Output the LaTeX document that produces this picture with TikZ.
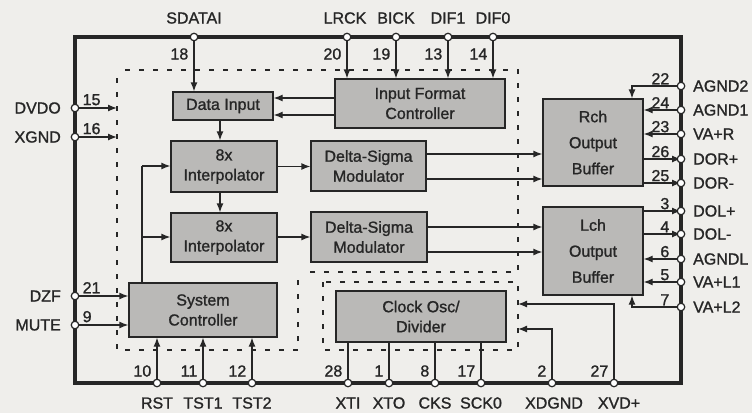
\documentclass[tikz,border=0pt]{standalone}
\usepackage{fontspec}
\setmainfont{Liberation Sans}[FakeBold=1.2]
\usetikzlibrary{arrows.meta}
\definecolor{bg}{HTML}{EFEEEB}
\definecolor{boxgray}{HTML}{BAB9B7}
\definecolor{ink}{HTML}{262626}
\begin{document}
\begin{tikzpicture}[x=1pt,y=-1pt,
  every node/.style={text=ink, font=\fontsize{16}{20}\selectfont},
  blk/.style={draw=ink, line width=1.3pt, fill=boxgray, align=center, inner sep=0pt},
  pinc/.style={circle, draw=ink, fill=white, line width=1.2pt, minimum size=7.5pt, inner sep=0pt},
  wire/.style={draw=ink, line width=1.3pt},
  arr/.style={wire, -{Latex[length=9pt,width=7pt]}},
  dsh/.style={draw=ink, line width=1.1pt, dash pattern=on 5pt off 9pt},
  num/.style={inner sep=1.5pt},
  lbl/.style={inner sep=1pt}]
\useasboundingbox[fill=bg] (0,0) rectangle (752,413);

% dashed domains
\draw[dsh] (125,70) -- (518,70) -- (518,272) -- (310,272);
\draw[dsh] (117,78) -- (117,350) -- (298,350) -- (298,278);
\draw[dsh] (323,282) rectangle (518,350);

% outline
\draw[draw=ink, line width=4pt, line join=miter] (75,37) rectangle (681,383);

% blocks
\node[blk, minimum width=100pt, minimum height=28pt] (di) at (223,106) {Data Input};
\node[blk, minimum width=170pt, minimum height=49pt] (ifc) at (420,103.5) {Input Format\\Controller};
\node[blk, minimum width=106pt, minimum height=51pt] (ip1) at (224,166.5) {8x\\Interpolator};
\node[blk, minimum width=115pt, minimum height=50pt] (ds1) at (368.5,166) {Delta-Sigma\\Modulator};
\node[blk, minimum width=106pt, minimum height=49pt] (ip2) at (224,237.5) {8x\\Interpolator};
\node[blk, minimum width=116pt, minimum height=50pt] (ds2) at (369,237) {Delta-Sigma\\Modulator};
\node[blk, minimum width=148pt, minimum height=54pt] (sc) at (203,310) {System\\Controller};
\node[blk, minimum width=170pt, minimum height=51pt] (ck) at (421,316.5) {Clock Osc/\\Divider};
\node[blk, minimum width=100pt, minimum height=87pt, font=\fontsize{16}{26}\selectfont] (rch) at (593,142.5) {Rch\\Output\\Buffer};
\node[blk, minimum width=100pt, minimum height=88pt, font=\fontsize{16}{26}\selectfont] (lch) at (593,251) {Lch\\Output\\Buffer};

% pins - top
\coordinate (p18) at (194,37);
\coordinate (p20) at (347,37);
\coordinate (p19) at (396,37);
\coordinate (p13) at (448,37);
\coordinate (p14) at (493,37);
% left
\coordinate (p15) at (75,108);
\coordinate (p16) at (75,137);
\coordinate (p21) at (75,296);
\coordinate (p9) at (75,325);
% bottom
\coordinate (p10) at (157,383);
\coordinate (p11) at (203,383);
\coordinate (p12) at (252,383);
\coordinate (p28) at (348,383);
\coordinate (p1) at (389,383);
\coordinate (p8) at (435,383);
\coordinate (p17) at (481,383);
\coordinate (p2) at (552,383);
\coordinate (p27) at (614,383);
% right
\coordinate (p22) at (681,86);
\coordinate (p24) at (681,110);
\coordinate (p23) at (681,134);
\coordinate (p26) at (681,159);
\coordinate (p25) at (681,183);
\coordinate (p3) at (681,211);
\coordinate (p4) at (681,234);
\coordinate (p6) at (681,259);
\coordinate (p5) at (681,282);
\coordinate (p7) at (681,307);

% free ends on dashed boundary
\coordinate (e15) at (117,108);
\coordinate (e16) at (117,137);
\coordinate (e2) at (518,329);
\coordinate (e27) at (518,304);

% connectors top
\draw[arr] (p18) -- (p18 |- di.north);
\foreach \p in {p20,p19,p13,p14} \draw[arr] (\p) -- (\p |- ifc.north);
\draw[arr] (ifc.west |- 0,98) -- (di.east |- 0,98);
\draw[arr] (ifc.west |- 0,115) -- (di.east |- 0,115);
\draw[arr] (di.south -| 220,0) -- (ip1.north -| 220,0);
\draw[arr] (ip1.south -| 220,0) -- (ip2.north -| 220,0);
\draw[arr] (ip1.east) -- (ds1.west |- ip1.east);
\draw[arr] (ip2.east |- 0,237) -- (ds2.west |- 0,237);
\draw[arr] (ds1.east |- 0,154) -- (rch.west |- 0,154);
\draw[arr] (ds1.east |- 0,179) -- (rch.west |- 0,179);
\draw[arr] (ds2.east |- 0,227) -- (lch.west |- 0,227);
\draw[arr] (ds2.east |- 0,252) -- (lch.west |- 0,252);
% system controller feedback
\draw[wire] (sc.north -| 142,0) -- (142,166);
\draw[arr] (142,166) -- (ip1.west |- 0,166);
\draw[arr] (142,237) -- (ip2.west |- 0,237);
% left
\draw[arr] (p15) -- (e15);
\draw[arr] (p16) -- (e16);
\draw[arr] (p21) -- (sc.west |- p21);
\draw[arr] (p9) -- (sc.west |- p9);
% bottom
\foreach \p in {p10,p11,p12} \draw[arr] (\p) -- (\p |- sc.south);
\foreach \p in {p28,p1,p8,p17} \draw[wire] (\p) -- (\p |- ck.south);
\draw[arr] (p2) -- (p2 |- e2) -- (e2);
\draw[arr] (p27) -- (p27 |- e27) -- (e27);
% right
\draw[arr] (p22) -- (632,86) -- (632,0 |- rch.north);
\draw[arr] (p24) -- (rch.east |- p24);
\draw[arr] (p23) -- (rch.east |- p23);
\draw[arr] (rch.east |- p26) -- (p26);
\draw[arr] (rch.east |- p25) -- (p25);
\draw[arr] (lch.east |- p3) -- (p3);
\draw[arr] (lch.east |- p4) -- (p4);
\draw[arr] (p6) -- (lch.east |- p6);
\draw[arr] (p5) -- (lch.east |- p5);
\draw[arr] (p7) -- (632,307) -- (632,0 |- lch.south);

% pin circles
\foreach \p in {p18,p20,p19,p13,p14,p15,p16,p21,p9,p10,p11,p12,p28,p1,p8,p17,p2,p27,p22,p24,p23,p26,p25,p3,p4,p6,p5,p7}
  \node[pinc] at (\p) {};

% top labels
\node[lbl] (lSDATAI) at (194,18) {SDATAI};
\node[lbl] (lLRCK) at (345,18) {LRCK};
\node[lbl] (lBICK) at (396,18) {BICK};
\node[lbl] (lDIF1) at (448,18) {DIF1};
\node[lbl] (lDIF0) at (493,18) {DIF0};
\foreach \p/\n in {p18/18,p20/20,p19/19,p13/13,p14/14}
  \node[num, anchor=east] at ([xshift=-4pt,yshift=-17pt]\p) {\n};
% left labels
\node[lbl, anchor=east] (lDVDO) at (62,108) {DVDO};
\node[lbl, anchor=east] (lXGND) at (62,137) {XGND};
\node[lbl, anchor=east] (lDZF) at (62,296) {DZF};
\node[lbl, anchor=east] (lMUTE) at (62,325) {MUTE};
\foreach \p/\n in {p15/15,p16/16,p21/21,p9/9}
  \node[num, anchor=south west] at ([xshift=6pt,yshift=1pt]\p) {\n};
% bottom labels
\node[lbl] (lRST) at (157,403) {RST};
\node[lbl] (lTST1) at (203,403) {TST1};
\node[lbl] (lTST2) at (252,403) {TST2};
\node[lbl] (lXTI) at (348,403) {XTI};
\node[lbl] (lXTO) at (389,403) {XTO};
\node[lbl] (lCKS) at (435,403) {CKS};
\node[lbl] (lSCK0) at (481,403) {SCK0};
\node[lbl] (lXDGND) at (554,403) {XDGND};
\node[lbl] (lXVD) at (619,403) {XVD+};
\foreach \p/\n in {p10/10,p11/11,p12/12,p28/28,p1/1,p8/8,p17/17,p2/2,p27/27}
  \node[num, anchor=east] at ([xshift=-4pt,yshift=12pt]\p) {\n};
% right labels
\foreach \p/\t in {p22/AGND2,p24/AGND1,p23/VA+R,p26/DOR+,p25/DOR-,p3/DOL+,p4/DOL-,p6/AGNDL,p5/VA+L1,p7/VA+L2}
  \node[lbl, anchor=west] at ([xshift=11pt]\p) {\t};
\foreach \p/\n in {p22/22,p24/24,p23/23,p26/26,p25/25,p3/3,p4/4,p6/6,p5/5,p7/7}
  \node[num, anchor=south east] at ([xshift=-10pt,yshift=0pt]\p) {\n};
\end{tikzpicture}
\end{document}
